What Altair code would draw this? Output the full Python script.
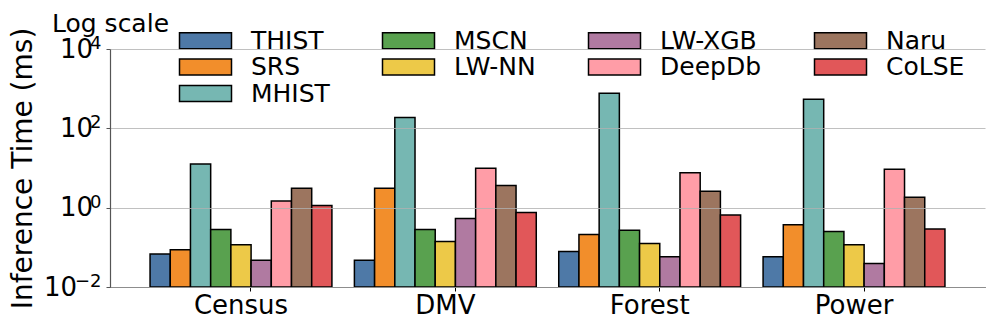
import altair as alt
import pandas as pd

groups = ["Census", "DMV", "Forest", "Power"]
methods = ["THIST", "SRS", "MHIST", "MSCN", "LW-NN", "LW-XGB", "DeepDb", "Naru", "CoLSE"]
colors = ["#4e79a7", "#f28e2b", "#76b7b2", "#59a14f", "#edc948",
          "#b07aa1", "#ff9da7", "#9c755f", "#e15759"]

thist = [0.068, 0.047, 0.079, 0.058]
srs = [0.087, 3.1, 0.21, 0.37]
mhist = [12.6, 187, 770, 540]
mscn = [0.28, 0.28, 0.27, 0.25]
lwnn = [0.117, 0.14, 0.125, 0.117]
lwxgb = [0.047, 0.53, 0.058, 0.039]
deepdb = [1.48, 9.8, 7.6, 9.3]
naru = [3.07, 3.6, 2.6, 1.82]
colse = [1.14, 0.76, 0.65, 0.29]

y_ticks = [0.01, 1, 100, 10000]
y_exponents = ["\u22122", "0", "2", "4"]
y_title = "Inference Time (ms)"
corner_note = "Log scale"

series = [thist, srs, mhist, mscn, lwnn, lwxgb, deepdb, naru, colse]

rows = []
for m, vals in zip(methods, series):
    for g, v in zip(groups, vals):
        rows.append({"group": g, "method": m, "value": v, "base": 0.01})
df = pd.DataFrame(rows)

exp_df = pd.DataFrame({"value": y_ticks, "exp": y_exponents})
note_df = pd.DataFrame({"t": [corner_note]})

# order chosen so that the 4-column legend reads column-wise like the reference
legend_order = ["THIST", "Naru", "DeepDb", "MSCN", "SRS", "CoLSE", "LW-XGB", "LW-NN", "MHIST"]
legend_colors = [colors[methods.index(m)] for m in legend_order]

FONT = "DejaVu Sans"
yscale = alt.Scale(type="log", domain=[0.01, 10000], nice=False)
yaxis = alt.Axis(title=y_title, values=y_ticks,
                 labelExpr="'10'", labelFontSize=26, labelFont=FONT,
                 labelColor="black",
                 labelPadding={"condition": {"test": "datum.value < 0.05", "value": 29.5},
                               "value": 13.5},
                 tickSize=4, tickColor="#555", domainColor="#555", domainWidth=1.2,
                 grid=True, gridColor="#b0b0b0", gridWidth=1, gridOpacity=0.8,
                 zindex=1,
                 titleFontSize=28, titleFont=FONT, titleFontWeight="normal",
                 titleColor="black", titleX=-87, titleY=119,
                 titleAlign="center", titleBaseline="middle")

bars = alt.Chart(df).mark_bar(stroke="black", strokeWidth=1.5, opacity=1).encode(
    x=alt.X("group:N", sort=groups,
            scale=alt.Scale(paddingInner=0.11, paddingOuter=0.196),
            axis=alt.Axis(title=None, labelAngle=0, bandPosition=0.555,
                          labelFontSize=26, labelFont=FONT, labelColor="black",
                          domainColor="black", domainWidth=1.2, tickColor="black",
                          tickSize=4, labelPadding=1, grid=False)),
    xOffset=alt.XOffset("method:N", sort=methods,
                        scale=alt.Scale(paddingInner=0, paddingOuter=0)),
    y=alt.Y("value:Q", scale=yscale, axis=yaxis),
    y2="base:Q",
    color=alt.Color("method:N",
                    scale=alt.Scale(domain=legend_order, range=legend_colors),
                    legend=alt.Legend(title=None, orient="none", legendX=83, legendY=-21,
                                      columns=4, columnPadding=49, rowPadding=0.5,
                                      symbolType="M-3.25,-1L3.25,-1L3.25,1L-3.25,1Z",
                                      symbolSize=256, symbolStrokeColor="black",
                                      symbolStrokeWidth=1.5, symbolOpacity=1,
                                      labelFontSize=25, labelFont=FONT, labelColor="black",
                                      labelOffset=33, labelLimit=300, padding=0)),
)

exps = alt.Chart(exp_df).mark_text(align="right", baseline="alphabetic", fontSize=18,
                                   font=FONT, color="black").encode(
    x=alt.value(-8.5),
    y=alt.Y("value:Q", scale=yscale, axis=yaxis),
    text="exp:N",
)

note = alt.Chart(note_df).mark_text(align="left", baseline="alphabetic", fontSize=25,
                                    font=FONT, color="black").encode(
    x=alt.value(-58),
    y=alt.value(-17),
    text="t:N",
)

chart = alt.layer(bars, exps, note).properties(
    width=875,
    height=238,
    autosize=alt.AutoSizeParams(type="none"),
    padding={"left": 102, "top": 41, "right": 4, "bottom": 37},
).configure_view(stroke=None)

chart.save("out.html", embed_options={"renderer": "svg", "actions": False})
